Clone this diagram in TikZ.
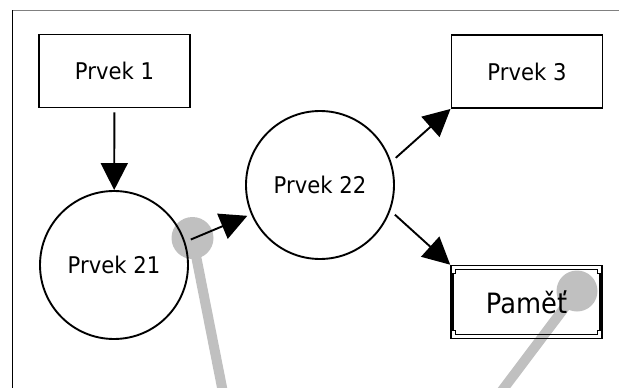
\documentclass[tikz,border=0pt]{standalone}
\usepackage{fontspec}
\setmainfont{DejaVu Sans}[FakeStretch=0.92]
\usetikzlibrary{arrows.meta,calc}
\definecolor{pinfill}{RGB}{192,192,192}
\tikzset{
  box/.style={draw,line width=1.9pt,minimum width=151pt,minimum height=73pt,inner sep=0pt,font=\fontsize{23}{26}\selectfont},
  ball/.style={draw,circle,line width=1.9pt,minimum size=148pt,inner sep=0pt,font=\fontsize{23}{26}\selectfont},
  arr/.style={line width=1.9pt,-{Triangle[length=27pt,width=27pt]},shorten <=6pt},
  pin/.style={pinfill,line width=10pt}
}
\begin{document}
\begin{tikzpicture}[x=1pt,y=-1pt]
		\useasboundingbox (0,0) rectangle (619,388);
		\clip (0,0) rectangle (619,388);

		% Pointers (behind everything)
		\coordinate (pin1) at (192.5,238);
		\coordinate (pin1end) at (224.5,400);
		\coordinate (pin2) at (577,291);
		\coordinate (pin2end) at (495,400);
		\fill[pinfill] (pin1) circle (21);
		\draw[pin] (pin1) -- (pin1end);
		\fill[pinfill] (pin2) circle (20.5);
		\draw[pin] (pin2) -- (pin2end);

		% Frame
		\draw[gray,line width=1pt] (12,10) -- (619,10);
		\draw[line width=0.8pt] (12,10) -- (12,388);

		% Elements
		\node[box] (p1) at (114.5,71) {Prvek 1};
		\node[box] (p3) at (527,71.5) {Prvek 3};
		\node[ball] (p21) at (114,265) {Prvek 21};
		\node[ball] (p22) at (320,185) {Prvek 22};
		\node[box,line width=1.6pt,font=\fontsize{28}{32}\selectfont] (mem) at (526.5,302) {Paměť};
		\draw[line width=1.5pt]
			($(mem.north west)+(5.5,5)$) -- ($(mem.north east)+(-5.5,5)$) -- ($(mem.north east)+(-5.5,9)$)
			-- ($(mem.north east)+(-3,9)$) -- ($(mem.south east)+(-3,-9)$) -- ($(mem.south east)+(-5.5,-9)$)
			-- ($(mem.south east)+(-5.5,-5)$) -- ($(mem.south west)+(5.5,-5)$) -- ($(mem.south west)+(5.5,-9)$)
			-- ($(mem.south west)+(3,-9)$) -- ($(mem.north west)+(3,9)$) -- ($(mem.north west)+(5.5,9)$) -- cycle;

		% Arrows
		\draw[arr,shorten <=4pt] (p1) -- (p21);
		\draw[arr,shorten >=4pt] (p21.18) -- (p22.203);
		\draw[arr] (p22.18) -- (p3.south west);
		\draw[arr] (p22.-20) -- (mem.north west);
	\end{tikzpicture}
\end{document}
